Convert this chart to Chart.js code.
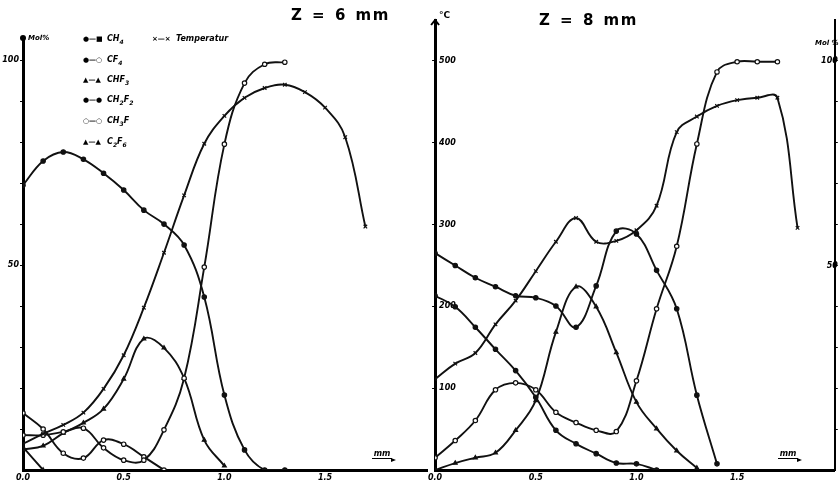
<!DOCTYPE html>
<html>
<head>
<meta charset="utf-8">
<script src="https://cdn.jsdelivr.net/npm/chart.js@4.4.1/dist/chart.umd.min.js"></script>
<style>
  html, body { margin: 0; padding: 0; background: #fff; }
  body { width: 840px; height: 482px; position: relative; overflow: hidden; font-family: 'DejaVu Sans', sans-serif; color: #000; }
  .panel { position: absolute; top: 0; height: 482px; }
  #left { left: 0; width: 433px; }
  #right { left: 425px; width: 415px; }
  .txt { position: absolute; font-weight: bold; font-style: italic; white-space: nowrap; line-height: 1; }
  .title { position: absolute; font-weight: bold; font-size: 15px; letter-spacing: 1.5px; word-spacing: 2px; white-space: nowrap; line-height: 1; }
  .leg { position: absolute; font-size: 8px; font-weight: bold; font-style: italic; white-space: nowrap; line-height: 1; }
  .leg .sym { display: inline-block; width: 24px; font-style: normal; font-size: 7px; }
  .leg sub { font-size: 6px; }
  .mm { position: absolute; font-size: 8px; font-weight: bold; font-style: italic; line-height: 1; border-bottom: 1.5px solid #000; width: 20px; text-align: center; }
  .mm::after { content: ''; position: absolute; right: -4px; bottom: -3.5px; border-left: 5px solid #000; border-top: 2.5px solid transparent; border-bottom: 2.5px solid transparent; }
</style>
</head>
<body>
  <div class="panel" id="left"><canvas id="chartZ6"></canvas></div>
  <div class="panel" id="right"><canvas id="chartZ8"></canvas></div>

  <div class="title" style="left:291px;top:8px;">Z = 6 mm</div>
  <div class="title" style="left:539px;top:13px;">Z = 8 mm</div>

  <div class="txt" style="left:28px;top:35px;font-size:7px;">Mol%</div>
  <div class="txt" style="left:439px;top:11px;font-size:9px;font-style:normal;">°C</div>
  <div class="txt" style="left:815px;top:40px;font-size:7px;">Mol %</div>

  <div class="leg" style="left:83px;top:35px;"><span class="sym">●—■</span>CH<sub>4</sub></div>
  <div class="leg" style="left:83px;top:56px;"><span class="sym">●—○</span>CF<sub>4</sub></div>
  <div class="leg" style="left:83px;top:76px;"><span class="sym">▲—▲</span>CHF<sub>3</sub></div>
  <div class="leg" style="left:83px;top:96px;"><span class="sym">●—●</span>CH<sub>2</sub>F<sub>2</sub></div>
  <div class="leg" style="left:83px;top:117px;"><span class="sym">○—○</span>CH<sub>3</sub>F</div>
  <div class="leg" style="left:83px;top:138px;"><span class="sym">▲—▲</span>C<sub>2</sub>F<sub>6</sub></div>
  <div class="leg" style="left:152px;top:35px;"><span class="sym">×—×</span>Temperatur</div>

  <div class="mm" style="left:372px;top:450px;">mm</div>
  <div class="mm" style="left:778px;top:450px;">mm</div>

<script>
// distances (mm) along the flame, one grid per panel
const distZ6 = [0, 0.1, 0.2, 0.3, 0.4, 0.5, 0.6, 0.7, 0.8, 0.9, 1.0, 1.1, 1.2, 1.3, 1.4, 1.5, 1.6, 1.7];
const distZ8 = [0, 0.1, 0.2, 0.3, 0.4, 0.5, 0.6, 0.7, 0.8, 0.9, 1.0, 1.1, 1.2, 1.3, 1.4, 1.5, 1.6, 1.7, 1.8];

// Z = 6 mm  (Mol %, temperature in °C)
const tempZ6  = [32, 44, 55, 70, 99, 140, 198, 265, 335, 398, 432, 454, 466, 470, 461, 442, 406, 297];
const ch2f2Z6 = [69.5, 75.4, 77.6, 75.8, 72.4, 68.3, 63.4, 60, 54.9, 42.2, 18.3, 4.9, 0, 0];
const cf4Z6   = [8.5, 8.5, 9.3, 10.2, 5.4, 2.4, 2.4, 9.8, 22.4, 49.5, 79.5, 94.4, 99, 99.5];
const chf3Z6  = [5, 5.9, 9, 11.5, 14.9, 22.2, 32, 29.8, 22.4, 7.3, 1];
const ch3fZ6  = [13.9, 10, 4.1, 2.9, 7.3, 6.3, 3.2, 0];
const c2f6Z6  = [5.6, 0];

// Z = 8 mm
const tempZ8  = [111, 130, 143, 178, 207, 243, 279, 308, 279, 280, 293, 323, 413, 432, 445, 452, 455, 455, 296];
const cf4Z8   = [3, 7.2, 12.1, 19.6, 21.3, 19.6, 14.1, 11.6, 9.7, 9.4, 21.8, 39.4, 54.7, 79.7, 97.3, 99.8, 99.8, 99.8];
const ch2f2Z8 = [53, 50, 47, 44.8, 42.6, 42.1, 40.1, 34.9, 45, 58.4, 57.7, 48.8, 39.4, 18.3, 1.5];
const ch3fZ8  = [42.6, 39.9, 34.9, 29.5, 24.3, 17.8, 9.7, 6.4, 4, 1.7, 1.5, 0];
const chf3Z8  = [0, 1.7, 3, 4.2, 9.7, 17, 33.7, 44.8, 39.9, 28.7, 16.6, 10.1, 4.7, 0.5];

const INK = '#111';
const tickFont = { family: 'DejaVu Sans', size: 8, weight: 'bold', style: 'italic' };

function pts(dist, vals) {
  return vals.map((v, i) => ({ x: dist[i], y: v }));
}

function series(dist, vals, axis, style, fill) {
  return {
    data: pts(dist, vals),
    yAxisID: axis,
    borderColor: INK,
    borderWidth: 1.9,
    tension: 0.4,
    pointStyle: style,
    pointRadius: style === 'crossRot' ? 2.5 : 2.2,
    pointBorderWidth: 1.2,
    pointBorderColor: INK,
    pointBackgroundColor: fill ? INK : '#fff',
    fill: false
  };
}

// small mark at the top of the main vertical axis
const axisCap = {
  id: 'axisCap',
  afterDraw(chart, args, opts) {
    const ctx = chart.ctx;
    const { left, top } = chart.chartArea;
    ctx.save();
    ctx.fillStyle = '#000';
    ctx.strokeStyle = '#000';
    ctx.lineWidth = 2;
    if (opts.kind === 'dot') {
      ctx.beginPath();
      ctx.arc(left, top, 3, 0, Math.PI * 2);
      ctx.fill();
    } else {
      ctx.beginPath();
      ctx.moveTo(left - 4, top + 5);
      ctx.lineTo(left, top);
      ctx.lineTo(left + 4, top + 5);
      ctx.stroke();
    }
    ctx.restore();
  }
};

const xAxis = (max) => ({
  type: 'linear',
  min: 0,
  max: max,
  grid: { display: false, drawTicks: false },
  border: { display: true, width: 3, color: '#000' },
  ticks: {
    stepSize: 0.5,
    font: tickFont,
    color: '#000',
    padding: 3,
    maxRotation: 0,
    callback: v => v.toFixed(1)
  },
  afterBuildTicks: s => { s.ticks = s.ticks.filter(t => t.value <= 1.5 && Math.abs(t.value * 2 - Math.round(t.value * 2)) < 1e-6); },
  afterFit: s => { s.height = 12; }
});

// Z = 6 mm panel
new Chart(document.getElementById('chartZ6'), {
  type: 'line',
  data: {
    datasets: [
      series(distZ6, tempZ6, 'yT', 'crossRot', true),
      series(distZ6, ch2f2Z6, 'y', 'circle', true),
      series(distZ6, cf4Z6, 'y', 'circle', false),
      series(distZ6, chf3Z6, 'y', 'triangle', true),
      series(distZ6, ch3fZ6, 'y', 'circle', false),
      series(distZ6, c2f6Z6, 'y', 'triangle', true)
    ]
  },
  plugins: [axisCap],
  options: {
    responsive: true,
    maintainAspectRatio: false,
    animation: false,
    layout: { padding: { top: 38, left: 0, right: 0, bottom: 0 } },
    plugins: { legend: { display: false }, tooltip: { enabled: false }, axisCap: { kind: 'dot' } },
    scales: {
      x: xAxis(2.01),
      y: {
        min: 0,
        max: 105.4,
        grid: { display: true, drawOnChartArea: false, tickLength: 3, color: '#000', lineWidth: 1 },
        border: { display: true, width: 3, color: '#000' },
        ticks: {
          stepSize: 10,
          font: tickFont,
          color: '#000',
          padding: 1,
          callback: v => (v === 50 || v === 100) ? String(v) : ''
        },
        afterBuildTicks: s => { s.ticks = s.ticks.filter(t => t.value > 0 && t.value <= 100 && t.value % 10 === 0); },
        afterFit: s => { s.width = 23; }
      },
      yT: { display: false, min: 0, max: 527 }
    }
  }
});

// Z = 8 mm panel
new Chart(document.getElementById('chartZ8'), {
  type: 'line',
  data: {
    datasets: [
      series(distZ8, tempZ8, 'y', 'crossRot', true),
      series(distZ8, cf4Z8, 'yM', 'circle', false),
      series(distZ8, ch2f2Z8, 'yM', 'circle', true),
      series(distZ8, ch3fZ8, 'yM', 'circle', true),
      series(distZ8, chf3Z8, 'yM', 'triangle', true)
    ]
  },
  plugins: [axisCap],
  options: {
    responsive: true,
    maintainAspectRatio: false,
    animation: false,
    layout: { padding: { top: 20, left: 0, right: 0, bottom: 0 } },
    plugins: { legend: { display: false }, tooltip: { enabled: false }, axisCap: { kind: 'arrow' } },
    scales: {
      x: xAxis(1.985),
      y: {
        position: 'left',
        min: 0,
        max: 550,
        grid: { display: true, drawOnChartArea: false, tickLength: 3, color: '#000', lineWidth: 1 },
        border: { display: true, width: 3, color: '#000' },
        ticks: { stepSize: 100, font: tickFont, color: '#000', mirror: true, padding: 4 },
        afterBuildTicks: s => { s.ticks = s.ticks.filter(t => t.value > 0 && t.value <= 500 && t.value % 100 === 0); },
        afterFit: s => { s.width = 8; }
      },
      yM: {
        position: 'right',
        min: 0,
        max: 110,
        grid: { display: true, drawOnChartArea: false, tickLength: 3, color: '#000', lineWidth: 1 },
        border: { display: true, width: 2, color: '#000' },
        ticks: {
          stepSize: 10,
          font: tickFont,
          color: '#000',
          mirror: true,
          padding: 3,
          callback: v => (v === 50 || v === 100) ? String(v) : ''
        },
        afterBuildTicks: s => { s.ticks = s.ticks.filter(t => t.value > 0 && t.value <= 100 && t.value % 10 === 0); },
        afterFit: s => { s.width = 2; }
      }
    }
  }
});
</script>
</body>
</html>
